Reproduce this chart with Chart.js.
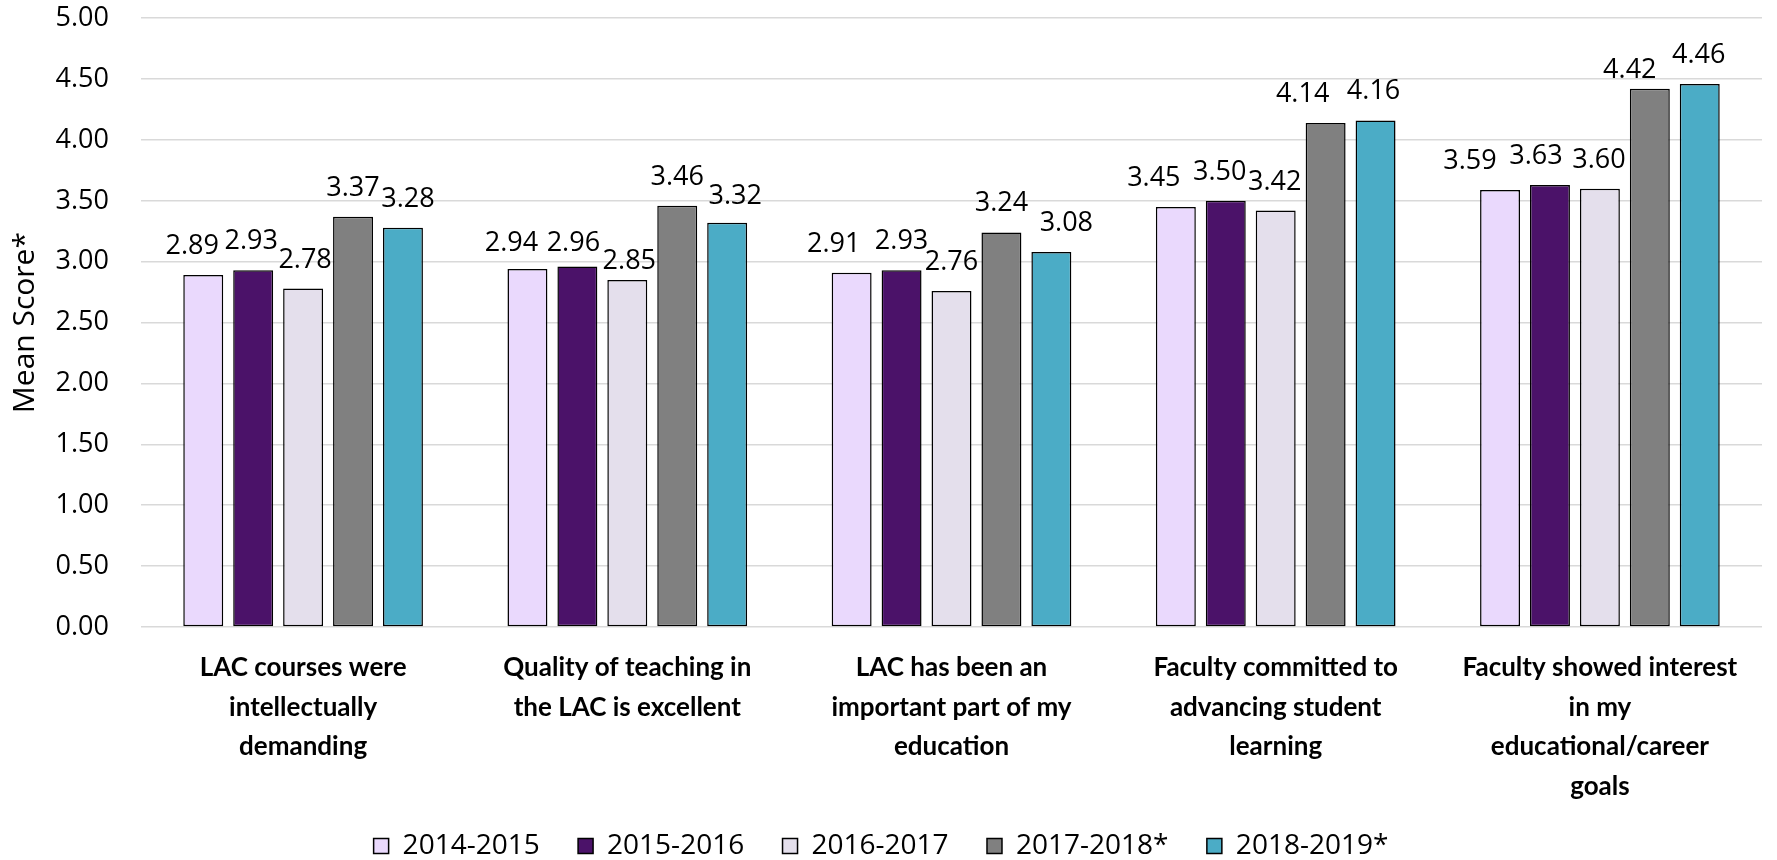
<!DOCTYPE html>
<html>
<head>
<meta charset="utf-8">
<script src="https://cdn.jsdelivr.net/npm/chart.js@4"></script>
<style>
  html, body { margin: 0; padding: 0; background: #fff; }
  #wrap { width: 1777px; height: 860px; }
</style>
</head>
<body>
<div id="wrap"><canvas id="c" width="1777" height="860"></canvas></div>
<script>
const categories = [
  ["LAC courses were", "intellectually", "demanding"],
  ["Quality of teaching in", "the LAC is excellent"],
  ["LAC has been an", "important part of my", "education"],
  ["Faculty committed to", "advancing student", "learning"],
  ["Faculty showed interest", "in my", "educational/career", "goals"]
];
const seriesNames = ["2014-2015", "2015-2016", "2016-2017", "2017-2018*", "2018-2019*"];
const s2014 = [2.89, 2.94, 2.91, 3.45, 3.59];
const s2015 = [2.93, 2.96, 2.93, 3.50, 3.63];
const s2016 = [2.78, 2.85, 2.76, 3.42, 3.60];
const s2017 = [3.37, 3.46, 3.24, 4.14, 4.42];
const s2018 = [3.28, 3.32, 3.08, 4.16, 4.46];
const seriesColors = ["#EAD9FD", "#4B1269", "#E4DFEC", "#808080", "#4BACC6"];
const yTicks = [0, 0.5, 1, 1.5, 2, 2.5, 3, 3.5, 4, 4.5, 5];

// manual nudges of the value labels, as they were placed in the source chart (px, relative)
const labelNudgeX = [
  [-11, -16, -18, -22, -30],
  [-2, -4, 0, -6, -14],
  [2, 2, 0, -1, -1],
  [0, 0, 0, -23, -20],
  [5, 8, 15, -2, -1]
];
const labelNudgeY = [
  [0, 3, 0, 0, 0],
  [0, 5, 0, 0, 0],
  [0, 10, 0, 0, 0],
  [0, 0, 0, 0, 10],
  [0, 2, 0, 0, 0]
];

const FONT = "'Open Sans'";
const BOLDFONT = "Lato";
const allSeries = [s2014, s2015, s2016, s2017, s2018];

const datasets = allSeries.map((d, i) => ({
  label: seriesNames[i],
  data: d,
  backgroundColor: seriesColors[i],
  borderColor: "#000000",
  borderWidth: 1.5,
  borderSkipped: false,
  categoryPercentage: 0.77,
  barPercentage: 0.8
}));

const valueLabels = {
  id: "valueLabels",
  afterDatasetsDraw(chart) {
    const ctx = chart.ctx;
    ctx.save();
    ctx.font = "27px " + FONT;
    ctx.fillStyle = "#000";
    ctx.textAlign = "center";
    ctx.textBaseline = "alphabetic";
    chart.data.datasets.forEach((ds, di) => {
      const meta = chart.getDatasetMeta(di);
      meta.data.forEach((bar, i) => {
        ctx.fillText(ds.data[i].toFixed(2),
          bar.x + labelNudgeX[di][i],
          bar.y - 21 + labelNudgeY[di][i]);
      });
    });
    ctx.restore();
  }
};

new Chart(document.getElementById("c"), {
  type: "bar",
  data: { labels: categories, datasets },
  plugins: [valueLabels],
  options: {
    responsive: false,
    animation: false,
    layout: { padding: { top: 0, right: 15, left: 0, bottom: -10 } },
    plugins: {
      legend: {
        position: "bottom",
        labels: {
          font: { family: FONT, size: 28 },
          color: "#000",
          boxWidth: 15,
          boxHeight: 15,
          padding: 2,
          generateLabels(chart) {
            const items = Chart.defaults.plugins.legend.labels.generateLabels(chart);
            items.forEach((it, i) => {
              if (i < items.length - 1) it.text = it.text + "     ";
            });
            return items;
          }
        }
      },
      tooltip: { enabled: false }
    },
    scales: {
      x: {
        grid: { display: false },
        border: { display: false },
        ticks: {
          autoSkip: false,
          maxRotation: 0,
          minRotation: 0,
          padding: 13,
          color: "#000",
          font: { family: BOLDFONT, size: 26, weight: "bold", lineHeight: 1.52 }
        },
        afterFit(scale) { scale.height = 203; }
      },
      y: {
        min: 0,
        max: 5,
        afterBuildTicks(scale) { scale.ticks = yTicks.map(v => ({ value: v })); },
        grid: { color: "#d9d9d9", lineWidth: 1.5, drawTicks: true, tickLength: 30, tickColor: "rgba(0,0,0,0)" },
        border: { display: false },
        ticks: {
          padding: 2,
          color: "#000",
          font: { family: FONT, size: 27 },
          callback: v => Number(v).toFixed(2)
        },
        title: {
          display: true,
          text: "Mean Score*",
          color: "#000",
          font: { family: FONT, size: 30 },
          padding: { top: 7, bottom: 4 }
        },
        afterFit(scale) { scale.width = 141; }
      }
    }
  }
});
</script>
</body>
</html>
